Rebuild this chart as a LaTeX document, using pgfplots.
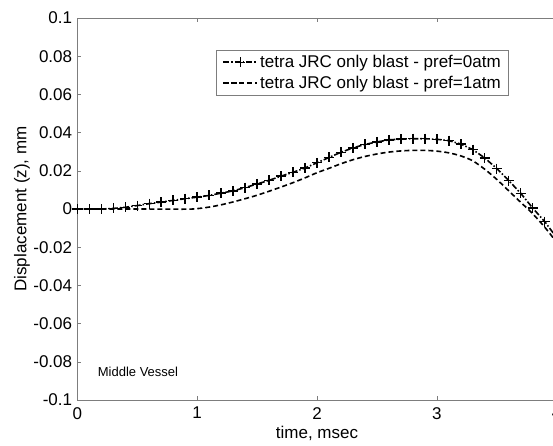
\documentclass[border=0pt]{standalone}
\usepackage{fontspec}
\setmainfont{Liberation Sans}
\usepackage{pgfplots}
\pgfplotsset{compat=1.18}
\definecolor{axgray}{RGB}{125,125,125}
\begin{document}
\begin{tikzpicture}
\begin{axis}[
  at={(0pt,0pt)}, anchor=south west,
  scale only axis, width=479.4pt, height=382pt,
  xmin=0, xmax=4, ymin=-0.1, ymax=0.1,
  xtick={0,1,2,3,4}, xticklabels={0,1,2,3,4},
  ytick={-0.1,-0.08,-0.06,-0.04,-0.02,0,0.02,0.04,0.06,0.08,0.1},
  yticklabels={-0.1,-0.08,-0.06,-0.04,-0.02,0,0.02,0.04,0.06,0.08,0.1},
  tick align=inside, major tick length=4pt,
  every tick/.style={axgray, line width=0.6pt},
  axis line style={axgray, line width=0.9pt},
  ticklabel style={font=\fontsize{17}{20}\selectfont, black},
  yticklabel style={inner sep=0pt, xshift=-5pt},
  xticklabel style={inner sep=0pt, yshift=-7pt},
  label style={font=\fontsize{17}{20}\selectfont},
  xlabel={time, msec},
  ylabel={Displacement (z), mm},
  xlabel style={at={(axis description cs:0.5,0)}, anchor=base, yshift=-38pt},
  ylabel style={at={(axis description cs:0,0.5)}, anchor=base, rotate=0, yshift=51pt},
  legend style={at={(0.9005,0.916)}, anchor=north east, draw=axgray, line width=0.6pt,
    font=\fontsize{17}{20}\selectfont, inner xsep=6pt, inner ysep=3pt,
    row sep=3pt, cells={anchor=west}},
  legend image code/.code={\draw[mark repeat=2,mark phase=2,#1] plot coordinates {(0pt,0pt) (17pt,0pt) (34pt,0pt)};},
]
\addplot[black, line width=1.6pt, dash pattern=on 6pt off 2pt on 1.5pt off 2pt,
  mark=+, mark size=5pt, mark options={solid, line width=1.4pt}] coordinates {
(0,0) (0.1,0) (0.2,0) (0.3,0.0003) (0.4,0.0009) (0.5,0.0018) (0.6,0.0028)
(0.7,0.0036) (0.8,0.0045) (0.9,0.0054) (1.0,0.0062) (1.1,0.0071) (1.2,0.0083)
(1.3,0.0095) (1.4,0.0112) (1.5,0.0131) (1.6,0.0150) (1.7,0.0172) (1.8,0.0192)
(1.9,0.0215) (2.0,0.0242) (2.1,0.0270) (2.2,0.0297) (2.3,0.0320) (2.4,0.0338)
(2.5,0.0351) (2.6,0.0362) (2.7,0.0366) (2.8,0.0368) (2.9,0.0368) (3.0,0.0365)
(3.1,0.0358) (3.2,0.0340) (3.3,0.0311) (3.4,0.0267) (3.5,0.0212) (3.6,0.0149)
(3.7,0.0082) (3.8,0.0005) (3.9,-0.0066) (4.0,-0.0150)
};
\addlegendentry{tetra JRC only blast - pref=0atm}
\addplot[black, line width=1.6pt, dash pattern=on 5pt off 3pt, smooth] coordinates {
(0,0) (0.5,0) (0.9,-0.0001) (1.0,0.0002) (1.1,0.0010) (1.2,0.0022) (1.3,0.0037)
(1.4,0.0054) (1.5,0.0072) (1.6,0.0093) (1.7,0.0115) (1.8,0.0138) (1.9,0.0163)
(2.0,0.0190) (2.1,0.0213) (2.2,0.0237) (2.3,0.0258) (2.4,0.0275) (2.5,0.0288)
(2.6,0.0298) (2.7,0.0304) (2.8,0.0307) (2.9,0.0307) (3.0,0.0303) (3.1,0.0294)
(3.2,0.0278) (3.3,0.0252) (3.4,0.0208) (3.5,0.0155) (3.6,0.0095) (3.7,0.0035)
(3.8,-0.0025) (3.9,-0.0095) (4.0,-0.0175)
};
\addlegendentry{tetra JRC only blast - pref=1atm}
\node[anchor=base west, font=\fontsize{13}{15}\selectfont, inner sep=0pt] at (axis cs:0.17,-0.0879) {Middle Vessel};
\end{axis}
\pgfresetboundingbox
\useasboundingbox (-77.3pt,-45pt) rectangle (475.7pt,400pt);
\end{tikzpicture}
\end{document}
